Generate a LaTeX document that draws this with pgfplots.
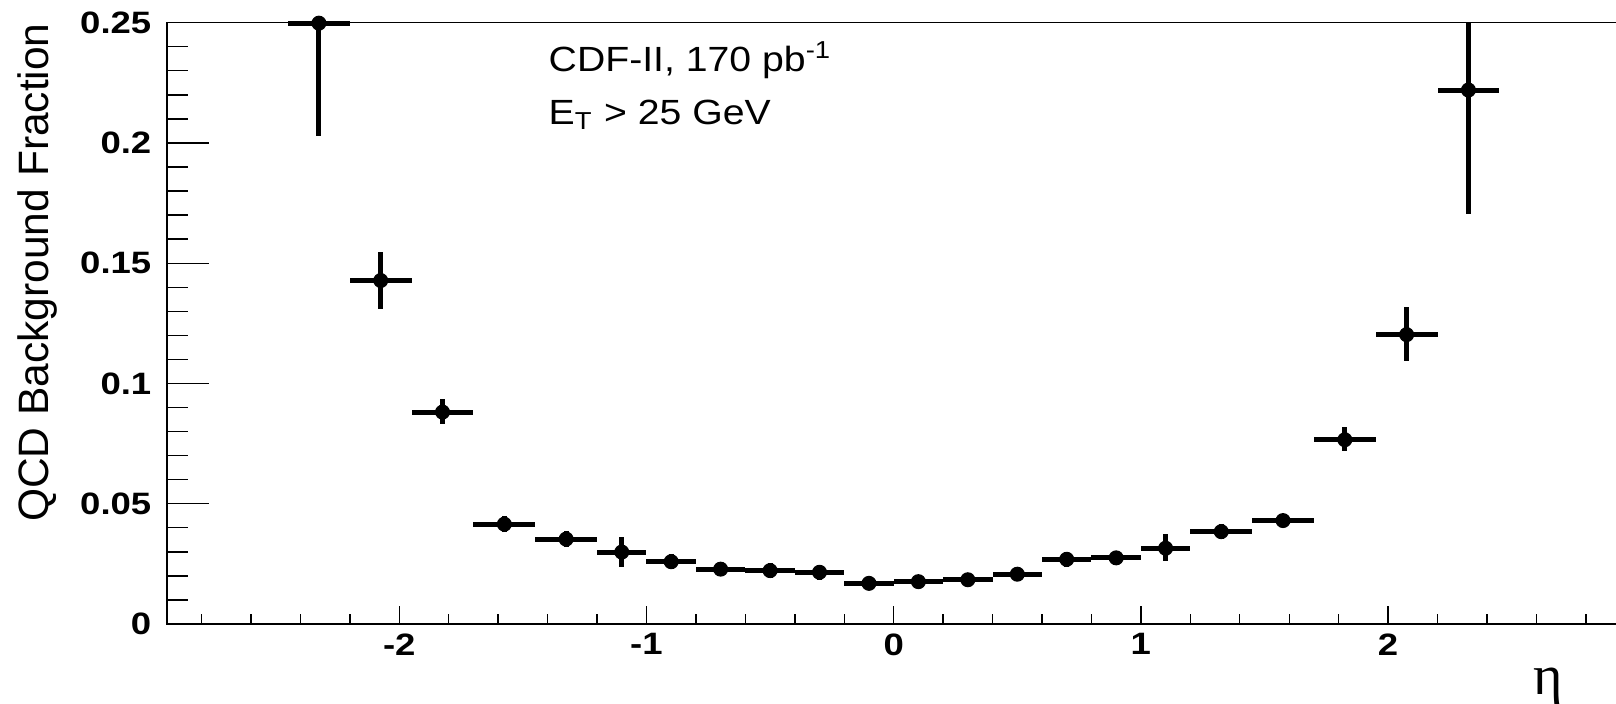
\documentclass[border=0pt]{standalone}
\usepackage{pgfplots}
\pgfplotsset{compat=1.18}
\usepackage{pgfplotstable}
\usepackage{fontspec}
\setmainfont[FakeStretch=1.12]{Liberation Sans}
\newfontfamily\tickfamily[FakeStretch=1.18]{Liberation Sans}
\newfontfamily\titlefamily{Liberation Sans}
\newfontfamily\symfamily{Liberation Serif}

% QCD background fraction vs eta: bin centre, value, half bin width, errors
\pgfplotstableread{
x      y      ex     eyp    eym
-2.325 0.2498 0.125  0.0002 0.0469
-2.075 0.1428 0.125  0.0118 0.0117
-1.825 0.0881 0.125  0.0053 0.0051
-1.575 0.0415 0.125  0.0032 0.0032
-1.325 0.0353 0.125  0.0032 0.0032
-1.1   0.0299 0.1    0.0063 0.0064
-0.9   0.0259 0.1    0.0030 0.0030
-0.7   0.0228 0.1    0.0030 0.0030
-0.5   0.0222 0.1    0.0030 0.0030
-0.3   0.0215 0.1    0.0030 0.0030
-0.1   0.0169 0.1    0.0028 0.0028
0.1    0.0176 0.1    0.0028 0.0028
0.3    0.0184 0.1    0.0028 0.0028
0.5    0.0207 0.1    0.0030 0.0030
0.7    0.0269 0.1    0.0030 0.0030
0.9    0.0275 0.1    0.0030 0.0030
1.1    0.0315 0.1    0.0058 0.0054
1.325  0.0384 0.125  0.0030 0.0030
1.575  0.0430 0.125  0.0028 0.0028
1.825  0.0766 0.125  0.0052 0.0045
2.075  0.1203 0.125  0.0115 0.0111
2.325  0.2220 0.125  0.0280 0.0514
}\qcdfrac

\pgfplotsset{rootframe/.style={
  width=465.1pt, height=192.4pt, scale only axis,
  xmin=-2.94, xmax=2.94, ymin=0, ymax=0.25,
  axis line style={line width=0.45pt},
  every tick/.style={black, line width=0.45pt},
  tick align=inside,
  xtick pos=bottom, ytick pos=left,
  clip=false,
}}

\begin{document}
\begin{tikzpicture}
% y ticks and data
\begin{axis}[rootframe,
  xtick=\empty,
  ytick={0,0.05,0.1,0.15,0.2,0.25},
  yticklabels={0,0.05,0.1,0.15,0.2,0.25},
  minor ytick={0.01,0.02,0.03,0.04,0.06,0.07,0.08,0.09,0.11,0.12,0.13,0.14,0.16,0.17,0.18,0.19,0.21,0.22,0.23,0.24},
  major tick length=13.5pt, minor tick length=6.9pt,
  yticklabel style={font=\tickfamily\bfseries\fontsize{9.9}{11}\selectfont, inner sep=0pt, xshift=-4.8pt},
]
\addplot[black, only marks, mark=*, mark size=2.2pt,
  error bars/.cd, x dir=both, x explicit, y dir=both, y explicit,
  error mark=none, error bar style={line width=1.6pt, black}]
  table[x=x, y=y, x error=ex, y error plus=eyp, y error minus=eym]{\qcdfrac};
\end{axis}
% x ticks, texts
\begin{axis}[rootframe,
  ytick=\empty,
  xtick={-2,-1,0,1,2},
  xticklabels={-2,-1,0,1,2},
  minor xtick={-2.8,-2.6,-2.4,-2.2,-1.8,-1.6,-1.4,-1.2,-0.8,-0.6,-0.4,-0.2,0.2,0.4,0.6,0.8,1.2,1.4,1.6,1.8,2.2,2.4,2.6,2.8},
  major tick length=5.8pt, minor tick length=3.1pt,
  xticklabel style={font=\tickfamily\bfseries\fontsize{9.9}{11}\selectfont, inner sep=0pt, yshift=-2.9pt},
]
\node[anchor=base west, inner sep=0pt, font=\fontsize{11.2}{13}\selectfont]
  at (axis cs:-1.398,0.2298) {CDF-II, 170 pb\textsuperscript{-1}};
\node[anchor=base west, inner sep=0pt, font=\fontsize{11.2}{13}\selectfont]
  at (axis cs:-1.398,0.2077) {E\textsubscript{T} > 25 GeV};
\node[anchor=base west, inner sep=0pt, font=\symfamily\fontsize{18}{20}\selectfont]
  at (axis cs:2.586,-0.0293) {η};
\coordinate (YL) at (rel axis cs:0,1);
\coordinate (BL) at (rel axis cs:0,0);
\coordinate (TRc) at (axis cs:2.922,0.25);
\end{axis}
\node[rotate=90, anchor=north east, inner sep=0pt, font=\titlefamily\fontsize{13.6}{15}\selectfont]
  at ([xshift=-48pt]YL) {QCD Background Fraction};
\pgfresetboundingbox
\path[use as bounding box] ([xshift=-53.4pt,yshift=-25.28pt]BL) rectangle ([yshift=7.26pt]TRc);
\end{tikzpicture}
\end{document}
